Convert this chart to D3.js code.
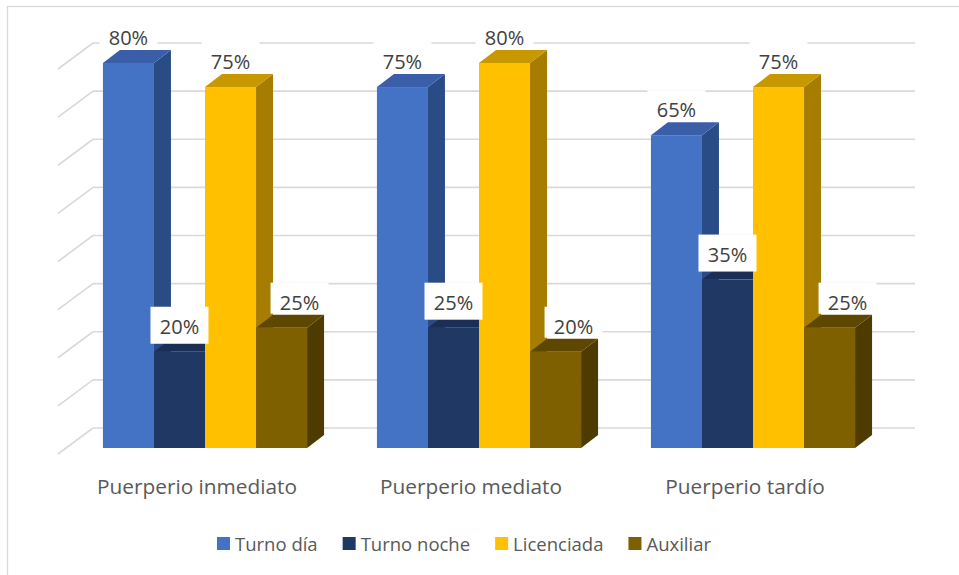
<!DOCTYPE html>
<html>
<head>
<meta charset="utf-8">
<script src="https://cdn.jsdelivr.net/npm/d3@7"></script>
<style>
  html, body { margin: 0; padding: 0; background: #fff; }
  svg { display: block; font-family: "Open Sans", "Noto Sans", sans-serif; }
</style>
</head>
<body>
<script>
// Categories, series and values (percent)
const categories = ["Puerperio inmediato", "Puerperio mediato", "Puerperio tardío"];
const seriesNames = ["Turno día", "Turno noche", "Licenciada", "Auxiliar"];
const turnoDia   = [80, 75, 65];
const turnoNoche = [20, 25, 35];
const licenciada = [75, 80, 75];
const auxiliar   = [25, 20, 25];
const tickValues = [0, 10, 20, 30, 40, 50, 60, 70, 80];

const seriesValues = [turnoDia, turnoNoche, licenciada, auxiliar];

// face colours: front, side, top
const palette = {
  "Turno día":   { front: "#4472C4", side: "#2A4C86", top: "#3A5FA8" },
  "Turno noche": { front: "#203864", side: "#172A4B", top: "#1B2F56" },
  "Licenciada":  { front: "#FFC000", side: "#A67D00", top: "#C89800" },
  "Auxiliar":    { front: "#7F6000", side: "#4E3B00", top: "#5E4700" }
};

const W = 959, H = 575;
const svg = d3.select("body").append("svg").attr("width", W).attr("height", H);

// chart area border
svg.append("rect")
  .attr("x", 7.5).attr("y", 6.5).attr("width", W + 10).attr("height", H + 10)
  .attr("fill", "#fff").attr("stroke", "#D9D9D9").attr("stroke-width", 1.3);

// scales (front plane of the columns)
const x0 = d3.scaleBand().domain(categories).range([68, 890]);
const groupW = x0.bandwidth() * 0.745;
const x1 = d3.scaleBand().domain(seriesNames)
  .range([(x0.bandwidth() - groupW) / 2, (x0.bandwidth() + groupW) / 2]);
const yFront = d3.scaleLinear().domain([0, 80]).range([448, 63]);

// back wall sits up and to the right of the column fronts
const wall = { dx: 25, dy: -20 };
const floorFront = { dx: -10, dy: 6 };
const yBack = v => yFront(v) + wall.dy;
const wallLeft = x0.range()[0] + wall.dx;
const wallRight = x0.range()[1] + wall.dx;

// gridlines on back wall and side wall
const grid = svg.append("g").attr("stroke", "#D9D9D9").attr("stroke-width", 1.6).attr("fill", "none");
tickValues.forEach(t => {
  grid.append("line")
    .attr("x1", wallLeft).attr("x2", wallRight)
    .attr("y1", yBack(t)).attr("y2", yBack(t));
  grid.append("line")
    .attr("x1", wallLeft).attr("y1", yBack(t))
    .attr("x2", x0.range()[0] + floorFront.dx).attr("y2", yBack(t) - wall.dy + floorFront.dy);
});

// 3D columns
const depth = { dx: 17, dy: -13 };
const bars = [];
categories.forEach((c, ci) => {
  seriesNames.forEach((s, si) => {
    bars.push({ c, s, si, v: seriesValues[si][ci] });
  });
});

const barG = svg.append("g");
bars.forEach(b => {
  const x = x0(b.c) + x1(b.s);
  const w = x1.bandwidth();
  const yT = yFront(b.v), yB = yFront(0);
  const col = palette[b.s];
  const g = barG.append("g");
  g.append("polygon")
    .attr("points", [[x + w, yB], [x + w + depth.dx, yB + depth.dy], [x + w + depth.dx, yT + depth.dy], [x + w, yT]].join(" "))
    .attr("fill", col.side);
  g.append("polygon")
    .attr("points", [[x, yT], [x + depth.dx, yT + depth.dy], [x + w + depth.dx, yT + depth.dy], [x + w, yT]].join(" "))
    .attr("fill", col.top);
  g.append("rect")
    .attr("x", x).attr("y", yT).attr("width", w).attr("height", yB - yT)
    .attr("fill", col.front);
});

// data labels with white backing
const labG = svg.append("g");
bars.forEach(b => {
  const x = x0(b.c) + x1(b.s);
  const w = x1.bandwidth();
  const shift = b.s === "Auxiliar" ? 18 : 0;
  const cx = x + w / 2 + shift;
  const base = yFront(b.v) - 18;
  const padBottom = b.s === "Turno noche" ? 10 : 4;
  labG.append("rect")
    .attr("x", cx - 29).attr("y", base - 27).attr("width", 58).attr("height", 27 + padBottom)
    .attr("fill", "#fff");
  labG.append("text")
    .attr("x", cx).attr("y", base)
    .attr("text-anchor", "middle")
    .attr("font-size", 20).attr("fill", "#404040")
    .text(b.v + "%");
});

// category labels along the front floor edge
svg.append("g").selectAll("text").data(categories).join("text")
  .attr("x", d => x0(d) + x0.bandwidth() / 2 - 8)
  .attr("y", 494)
  .attr("text-anchor", "middle")
  .attr("font-size", 20.8).attr("fill", "#595959")
  .text(d => d);

// legend
const legend = svg.append("g");
let lx = 217;
seriesNames.forEach(s => {
  legend.append("rect")
    .attr("x", lx).attr("y", 537).attr("width", 13).attr("height", 13)
    .attr("fill", palette[s].front);
  const t = legend.append("text")
    .attr("x", lx + 18).attr("y", 551)
    .attr("font-size", 18.5).attr("fill", "#595959")
    .text(s);
  lx += 18 + t.node().getComputedTextLength() + 25;
});
</script>
</body>
</html>
